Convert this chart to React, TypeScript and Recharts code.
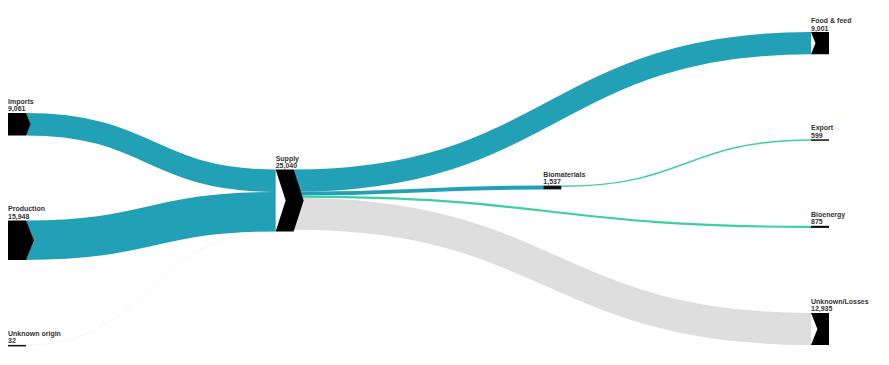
import { Sankey } from "recharts"

// nodes, in the order the links refer to them (and top-to-bottom within a column)
const nodeNames = [
  "Imports", "Production", "Unknown origin", "Supply", "Biomaterials",
  "Food & feed", "Export", "Bioenergy", "Unknown/Losses",
]
const nodeTotals = [9061, 15948, 32, 25040, 1537, 9001, 599, 875, 12935]

// flows
const linkSources = [0, 1, 2, 3, 3, 4, 3, 3]
const linkTargets = [3, 3, 3, 5, 4, 6, 7, 8]
const linkValues = [9061, 15948, 32, 9001, 1537, 599, 875, 12935]

const TEAL = "#22a1b6"
const GREEN = "#3ccfa3"
const GREY = "#dedede"

const linkColor: Record<string, string> = {
  "Unknown/Losses": GREY,
  "Bioenergy": GREEN,
  "Export": GREEN,
}

const data = {
  nodes: nodeNames.map((name, i) => ({ name, total: nodeTotals[i] })),
  links: linkValues.map((value, i) => ({
    source: linkSources[i],
    target: linkTargets[i],
    value,
  })),
}

const fmt = (v: number) => v.toLocaleString("en-US")

function FlowNode(props: any) {
  const { x, y, width, height, payload } = props
  // recharts: sourceLinks = links coming in, targetLinks = links going out
  const hasIn = payload.sourceLinks?.length > 0
  const hasOut = payload.targetLinks?.length > 0
  const p = height > 8 ? Math.min(height * 0.2, 10) : 0
  const pts: number[][] = [[x, y]]
  if (hasIn && p) pts.push([x + p, y + height / 2])
  pts.push([x, y + height], [x + width, y + height])
  if (hasOut && p) pts.push([x + width + p, y + height / 2])
  pts.push([x + width, y])
  const h = Math.max(height, 1.5)
  return (
    <g>
      {p ? (
        <polygon points={pts.map((q) => q.join(",")).join(" ")} fill="#000" />
      ) : (
        <rect x={x} y={y} width={width} height={h} fill="#111" />
      )}
      <text x={x} y={y - 9} fontSize={7} fontWeight="bold" fill="#333"
        fontFamily="'Liberation Sans', Arial, sans-serif">{payload.name}</text>
      <text x={x} y={y - 1.5} fontSize={7} fontWeight="bold" fill="#333"
        fontFamily="'Liberation Sans', Arial, sans-serif">{fmt(payload.total)}</text>
    </g>
  )
}

function FlowLink(props: any) {
  const { sourceX, sourceY, sourceControlX, targetX, targetY, targetControlX, linkWidth, payload } = props
  const color = linkColor[payload.target?.name] ?? TEAL
  return (
    <path
      d={`M${sourceX},${sourceY} C${sourceControlX},${sourceY} ${targetControlX},${targetY} ${targetX},${targetY}`}
      fill="none"
      stroke={color}
      strokeWidth={linkWidth}
    />
  )
}

export default function App() {
  return (
    <div style={{ width: 873, height: 349, background: "#fff" }}>
      <Sankey
        width={873}
        height={349}
        data={data}
        nodeWidth={18}
        nodePadding={85}
        linkCurvature={0.5}
        iterations={32}
        sort={false}
        margin={{ top: 24, right: 52, bottom: 12, left: 0 }}
        node={<FlowNode />}
        link={<FlowLink />}
      />
    </div>
  )
}
